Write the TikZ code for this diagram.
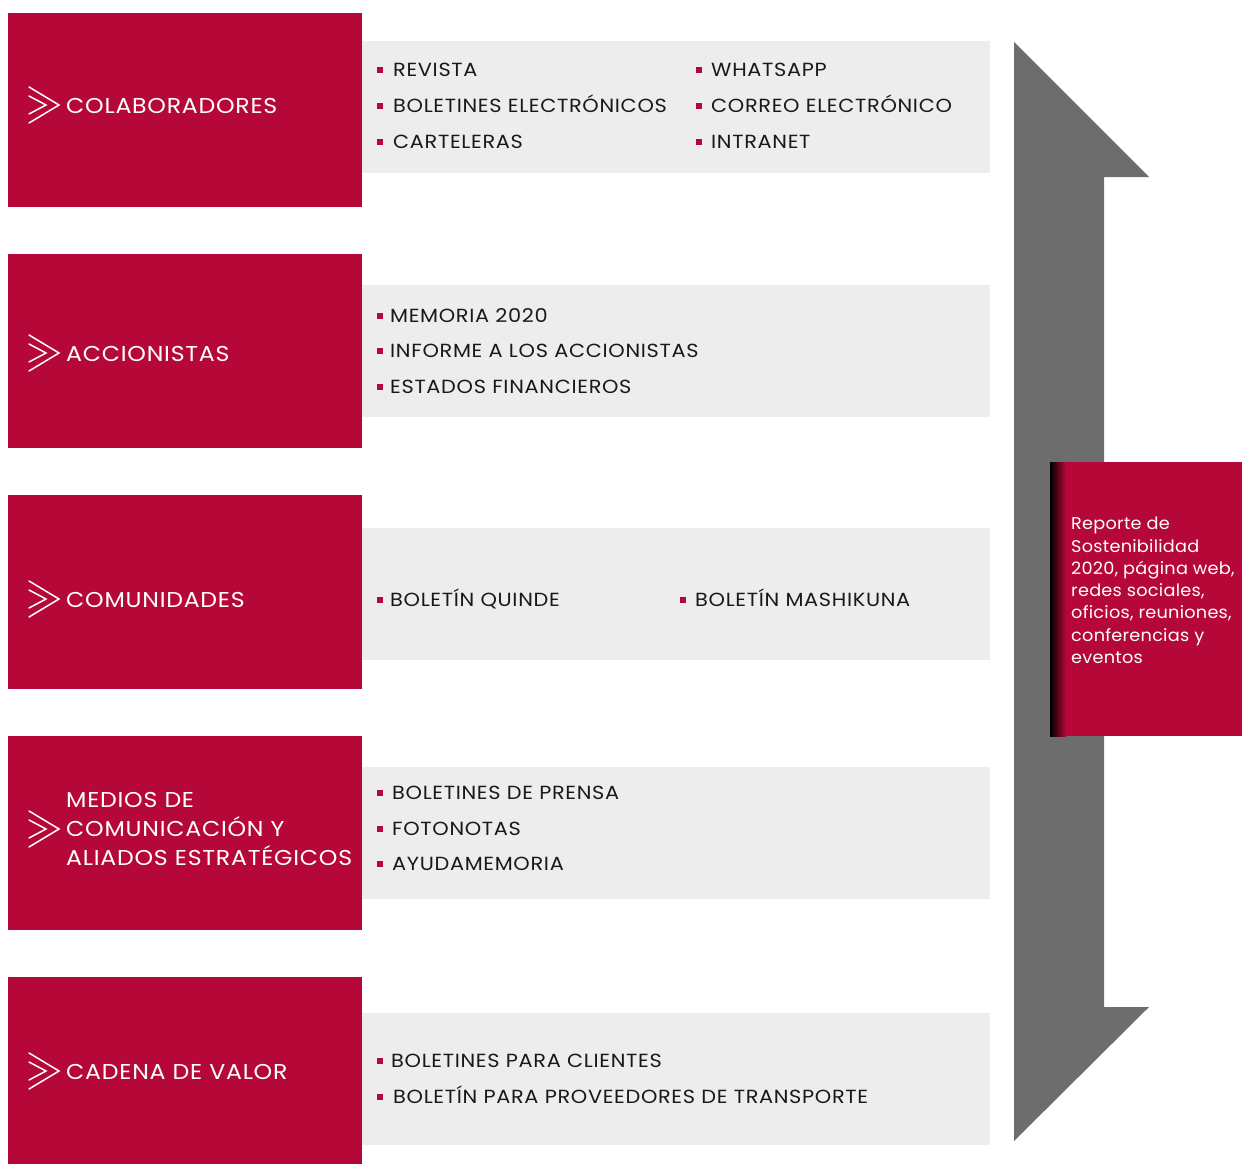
\documentclass[tikz,border=0pt]{standalone}
\usepackage{fontspec}
\setmainfont{Poppins}
\newfontfamily\widefont{Poppins}[FakeStretch=1.1, LetterSpace=3.5]
\newfontfamily\midfont{Poppins}[FakeStretch=1.04, LetterSpace=1.5]
\definecolor{brand}{RGB}{181,8,56}
\definecolor{panel}{RGB}{237,237,237}
\definecolor{arrowgray}{RGB}{109,109,109}
\definecolor{ink}{RGB}{25,25,25}
\begin{document}
\begin{tikzpicture}[x=1pt,y=-1pt,
  redbox/.style={fill=brand, draw=none, inner sep=0pt, outer sep=0pt, anchor=north west, minimum width=354pt, minimum height=194pt},
  panelbox/.style={fill=panel, draw=none, inner sep=0pt, outer sep=0pt, anchor=north west, minimum width=628pt, minimum height=132pt},
  label/.style={text=white, font=\widefont\fontsize{21.5}{29}\selectfont, inner sep=0pt, anchor=base west, align=left},
  item/.style={text=ink, font=\widefont\fontsize{19}{24}\selectfont, inner sep=0pt, anchor=base west},
  bul/.style={fill=brand, draw=none, inner sep=0pt, minimum size=6pt},
  chev/.style={white, line width=1.5pt, line cap=round, line join=miter}
]
\useasboundingbox (0,0) rectangle (1242,1164);

% arrow
\fill[arrowgray] (1014,42) -- (1149,177) -- (1104,177) -- (1104,1007) -- (1149,1007) -- (1014,1141) -- cycle;

% red boxes
\node[redbox] (r1) at (8,13) {};
\node[redbox] (r2) at (8,254) {};
\node[redbox] (r3) at (8,495) {};
\node[redbox] (r4) at (8,736) {};
\node[redbox, minimum height=188pt] (r5) at (8,977) {};

% panels
\node[panelbox] (g1) at (362,41) {};
\node[panelbox] (g2) at (362,285) {};
\node[panelbox] (g3) at (362,528) {};
\node[panelbox] (g4) at (362,767) {};
\node[panelbox] (g5) at (362,1013) {};

% chevrons
\foreach \cy in {105,353,599,829,1071}{
  \draw[chev] (29,\cy-18) -- (59,\cy) -- (29,\cy+18);
  \draw[chev] (29,\cy-9) -- (46,\cy) -- (29,\cy+9);
}

% labels
\node[label] (l1) at (66,113) {COLABORADORES};
\node[label] (l2) at (66,361) {ACCIONISTAS};
\node[label] (l3) at (66,607) {COMUNIDADES};
\node[label, anchor=west] (l4) at (66,829) {MEDIOS DE\\COMUNICACIÓN Y\\ALIADOS ESTRATÉGICOS};
\node[label] (l5) at (66,1079) {CADENA DE VALOR};

% items row 1
\foreach \yy/\txt [count=\i] in {70/REVISTA,106/BOLETINES ELECTRÓNICOS,142/CARTELERAS}{
  \node[bul] (b1a\i) at (380,\yy) {};
  \node[item] (t1a\i) at (393,\yy+6.7) {\txt};
}
\foreach \yy/\txt [count=\i] in {70/WHATSAPP,106/CORREO ELECTRÓNICO,142/INTRANET}{
  \node[bul] (b1b\i) at (699,\yy) {};
  \node[item] (t1b\i) at (711,\yy+6.7) {\txt};
}
% row 2
\foreach \yy/\txt [count=\i] in {316/MEMORIA 2020,351/INFORME A LOS ACCIONISTAS,387/ESTADOS FINANCIEROS}{
  \node[bul] (b2\i) at (380,\yy) {};
  \node[item] (t2\i) at (390,\yy+6.7) {\txt};
}
% row 3
\node[bul] (b31) at (380,600) {};
\node[item] (t31) at (390,606.7) {BOLETÍN QUINDE};
\node[bul] (b32) at (683,600) {};
\node[item] (t32) at (695,606.7) {BOLETÍN MASHIKUNA};
% row 4
\foreach \yy/\txt [count=\i] in {793/BOLETINES DE PRENSA,829/FOTONOTAS,864/AYUDAMEMORIA}{
  \node[bul] (b4\i) at (380,\yy) {};
  \node[item] (t4\i) at (392,\yy+6.7) {\txt};
}
% row 5
\node[bul] (b51) at (380,1061) {};
\node[item] (t51) at (391,1067.7) {BOLETINES PARA CLIENTES};
\node[bul] (b52) at (380,1097) {};
\node[item] (t52) at (393,1103.7) {BOLETÍN PARA PROVEEDORES DE TRANSPORTE};

% report box
\node[fill=brand, draw=none, inner sep=0pt, outer sep=0pt, anchor=north west, minimum width=192pt, minimum height=274pt] (rep) at (1050,462) {};
\shade[left color=black, right color=brand, draw=none] (1050,462) rectangle (1066,736);
\node[text=white, font=\midfont\fontsize{17}{22.3}\selectfont, inner sep=0pt, anchor=north west, align=left] (rept) at (1071,517) {Reporte de\\Sostenibilidad\\2020, página web,\\redes sociales,\\oficios, reuniones,\\conferencias y\\eventos};
\end{tikzpicture}
\end{document}
